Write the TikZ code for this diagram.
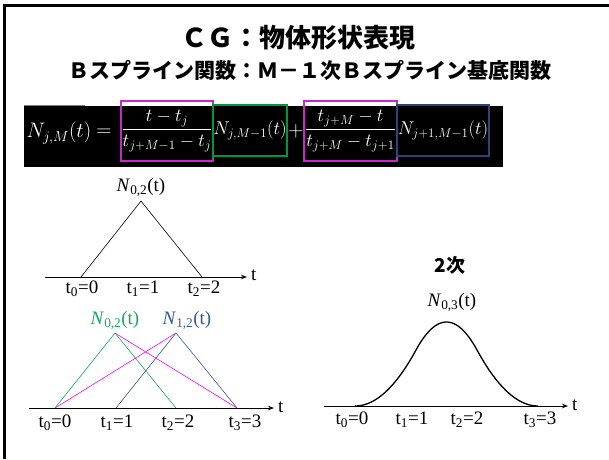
\RequirePackage{fix-cm}
\documentclass[tikz,border=0pt]{standalone}
\usepackage[no-math]{fontspec}
\setmainfont{Liberation Serif}
\newfontfamily\cjk{Noto Sans CJK JP}
\usetikzlibrary{arrows.meta}
\definecolor{ngreen}{RGB}{20,170,90}
\definecolor{nblue}{RGB}{50,90,150}
\definecolor{npink}{RGB}{255,0,255}
\definecolor{boxpink}{RGB}{200,40,200}
\definecolor{boxgreen}{RGB}{0,150,60}
\definecolor{boxblue}{RGB}{40,70,120}
\tikzset{
  axis/.style={line width=0.8pt,-{Stealth[length=6pt,width=4.5pt]}},
  ticklabel/.style={font=\fontsize{19}{20}\selectfont,inner sep=0pt},
  fnlabel/.style={font=\fontsize{19}{20}\selectfont,inner sep=0pt},
  mathbox/.style={text=white,inner sep=0pt,font=\fontsize{18.5}{20}\selectfont},
  frame/.style={line width=1.3pt},
}
\begin{document}
\begin{tikzpicture}[x=1pt,y=-1pt]
    \useasboundingbox (0,0) rectangle (609,459);
    \draw[line width=3pt] (4.5,459) -- (4.5,5.5) -- (609,5.5);
    % title
    \node[font=\cjk\bfseries\fontsize{26}{30}\selectfont] (title) at (298,38) {ＣＧ：物体形状表現};
    \node[font=\cjk\bfseries\fontsize{21}{26}\selectfont] (subtitle) at (310,70) {Ｂスプライン関数：Ｍ－１次Ｂスプライン基底関数};
    % formula
    \fill[black] (24,106) rectangle (503,167);
    \draw[gray] (24,105) -- (85,105);
    \draw[frame,boxpink] (121,101) rectangle (213,161);
    \draw[frame,boxgreen] (213,105) rectangle (287,156);
    \draw[frame,boxpink] (304,101) rectangle (397,161);
    \draw[frame,boxblue] (397,105) rectangle (489,156);
    \node[mathbox,font=\fontsize{21}{22}\selectfont] (lhs) at (59,133) {$N_{j,M}(t)$};
    \node[mathbox,font=\fontsize{21}{22}\selectfont] (eq) at (104,133) {$=$};
    \node[mathbox] (frac1) at (167,131) {$\displaystyle\frac{t-t_j}{t_{j+M-1}-t_j}$};
    \node[mathbox] (basis1) at (250,130.5) {$N_{j,M-1}(t)$};
    \node[mathbox,font=\fontsize{21}{22}\selectfont] (plus) at (296,131) {$+$};
    \node[mathbox] (frac2) at (350.5,131) {$\displaystyle\frac{t_{j+M}-t}{t_{j+M}-t_{j+1}}$};
    \node[mathbox] (basis2) at (443,130.5) {$N_{j+1,M-1}(t)$};
    % 1st degree, one basis
    \coordinate (A0) at (45,277);
    \coordinate (A1) at (247,277);
    \draw[axis] (A0) -- (A1);
    \node[fnlabel,anchor=west] (At) at (251,275) {t};
    \coordinate (P0) at (81,277);
    \coordinate (P1) at (141,201);
    \coordinate (P2) at (202,277);
    \draw[line width=0.6pt] (P0) -- (P1) -- (P2);
    \node[fnlabel] (N02) at (141,187) {\textit{N}\textsubscript{0,2}(t)};
    \node[ticklabel] at (82,289) {t\textsubscript{0}=0};
    \node[ticklabel] at (143,289) {t\textsubscript{1}=1};
    \node[ticklabel] at (204,289) {t\textsubscript{2}=2};
    % 1st degree, two bases
    \coordinate (B0) at (29,408);
    \coordinate (B1) at (274,408);
    \draw[axis] (B0) -- (B1);
    \node[fnlabel,anchor=west] (Bt) at (278,407) {t};
    \coordinate (Q0) at (55,408);
    \coordinate (Q1) at (116,408);
    \coordinate (Q2) at (176,408);
    \coordinate (Q3) at (237,408);
    \coordinate (G) at (115,333);
    \coordinate (H) at (176,333);
    \draw[ngreen,line width=0.6pt] (Q0) -- (G) -- (Q2);
    \draw[nblue,line width=0.6pt] (Q1) -- (H) -- (Q3);
    \draw[npink,line width=0.6pt] (Q0) -- (H) (G) -- (Q3);
    \node[fnlabel,text=ngreen] (N02b) at (115,320) {\textit{N}\textsubscript{0,2}(t)};
    \node[fnlabel,text=nblue] (N12) at (187,320) {\textit{N}\textsubscript{1,2}(t)};
    \node[ticklabel] at (55,423) {t\textsubscript{0}=0};
    \node[ticklabel] at (117,423) {t\textsubscript{1}=1};
    \node[ticklabel] at (178,423) {t\textsubscript{2}=2};
    \node[ticklabel] at (245,423) {t\textsubscript{3}=3};
    % 2nd degree
    \coordinate (C0) at (324,406);
    \coordinate (C1) at (568,406);
    \draw[axis] (C0) -- (C1);
    \node[fnlabel,anchor=west] (Ct) at (572,405) {t};
    \draw[line width=1.3pt] plot[domain=0:1,samples=20] ({355+61*\x},{406-112*0.5*\x*\x})
        -- plot[domain=1:2,samples=30] ({355+61*\x},{406-112*0.5*(-2*\x*\x+6*\x-3)})
        -- plot[domain=2:3,samples=20] ({355+61*\x},{406-112*0.5*(3-\x)*(3-\x)});
    \node[font=\cjk\bfseries\fontsize{19}{22}\selectfont] (deg2) at (450,265) {2次};
    \node[fnlabel] (N03) at (452,302) {\textit{N}\textsubscript{0,3}(t)};
    \node[ticklabel] at (352,420) {t\textsubscript{0}=0};
    \node[ticklabel] at (412,420) {t\textsubscript{1}=1};
    \node[ticklabel] at (467,420) {t\textsubscript{2}=2};
    \node[ticklabel] at (540,420) {t\textsubscript{3}=3};
\end{tikzpicture}
\end{document}
